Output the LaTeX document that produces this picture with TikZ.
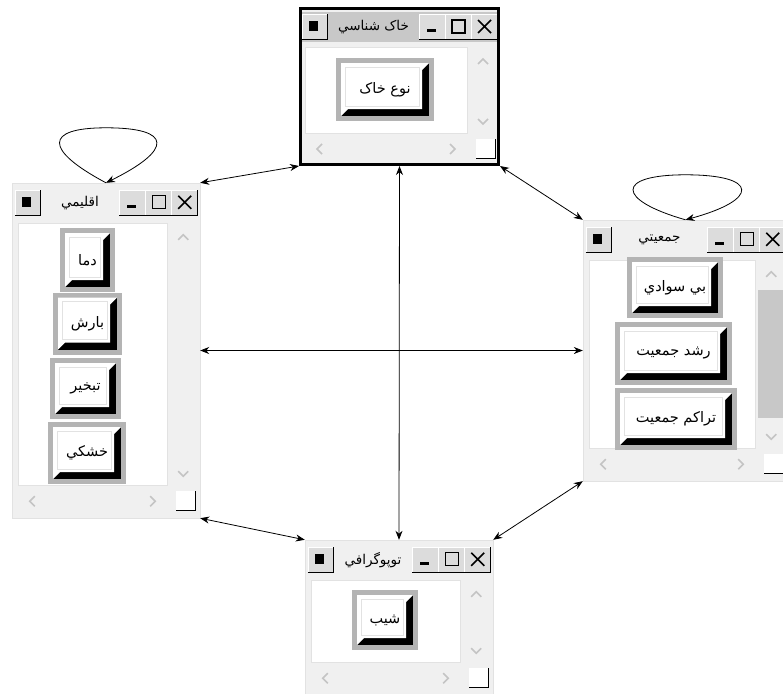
\documentclass[tikz,border=0pt]{standalone}
\usepackage{fontspec}
\usetikzlibrary{arrows.meta}
\TeXXeTstate=1
\newfontfamily\arabicfont[Script=Arabic]{DejaVu Sans}
\definecolor{winbg}{HTML}{F0F0F0}
\definecolor{barbg}{HTML}{C8C8C8}
\definecolor{btnface}{HTML}{DCDCDC}
\definecolor{knobgray}{HTML}{B4B4B4}
\definecolor{chevgray}{HTML}{C4C4C4}
\definecolor{edge}{HTML}{E2E2E2}
\newcommand\knobfont{\arabicfont\fontsize{14.5}{16}\selectfont}
\newcommand\titlefont{\arabicfont\fontsize{13.5}{15}\selectfont}

\tikzset{
  win/.style={draw=edge, fill=winbg, inner sep=0pt},
  wintitle/.style={inner sep=1pt, font=\titlefont},
  chev/.style={draw=chevgray, line width=1.6pt},
  knob/.style={fill=knobgray, inner sep=0pt, font=\knobfont,
    path picture={
      \coordinate (knw) at (path picture bounding box.north west);
      \coordinate (kne) at (path picture bounding box.north east);
      \coordinate (kse) at (path picture bounding box.south east);
      \coordinate (ksw) at (path picture bounding box.south west);
      \fill[black] ([shift={(5pt,-5pt)}]knw) rectangle ([shift={(-5pt,5pt)}]kse);
      \fill[white] ([shift={(5pt,-5pt)}]knw) -- ([shift={(-5pt,-5pt)}]kne)
        -- ([shift={(-12pt,-12pt)}]kne) -- ([shift={(-12pt,12pt)}]kse)
        -- ([shift={(12pt,12pt)}]ksw) -- ([shift={(5pt,5pt)}]ksw) -- cycle;
      \draw[edge, line width=1pt] ([shift={(9pt,-9pt)}]knw) rectangle ([shift={(-15pt,15pt)}]kse);
    }},
}

% raised button of a title bar
\newcommand\tbtn[4]{%
  \fill[btnface] (#1,#2) rectangle (#3,#4);
  \draw[white] (#1,#4) -- (#1,#2) -- (#3,#2);
  \draw[black] (#1,#4) -- (#3,#4) -- (#3,#2);
}

% title bar, client area and scroll bars of a window node
\newcommand\winparts[3]{%
  \fill[#3] ([shift={(3pt,-5pt)}]#1.north west) rectangle ([shift={(-3pt,-35pt)}]#1.north east);
  \draw[edge, fill=white] ([shift={(6pt,-40pt)}]#1.north west) rectangle ([shift={(-33pt,33pt)}]#1.south east);
  \begin{scope}[shift={(#1.north west)}]
    \tbtn{3}{7}{28}{32}
    \fill (10,14) rectangle (19,24);
  \end{scope}
  \begin{scope}[shift={(#1.north east)}]
    \tbtn{-81}{7}{-55}{32}
    \fill (-73,22) rectangle (-64,25);
    \tbtn{-55}{7}{-29}{32}
    \draw[line width=1.2pt] (-48,13) rectangle (-35,26);
    \tbtn{-29}{7}{-3}{32}
    \draw[line width=1.6pt] (-22,13) -- (-9,26) (-22,26) -- (-9,13);
    \draw[chev] (-22,57) -- (-17,52) -- (-12,57);
  \end{scope}
  \begin{scope}[shift={(#1.south west)}]
    \draw[chev] (23,-22) -- (18,-17) -- (23,-12);
  \end{scope}
  \begin{scope}[shift={(#1.south east)}]
    \draw[chev] (-22,-47) -- (-17,-42) -- (-12,-47);
    \draw[chev] (-50,-22) -- (-45,-17) -- (-50,-12);
    \fill[white] (-24,-27) rectangle (-5,-8);
    \draw (-24,-8) -- (-5,-8) -- (-5,-27);
  \end{scope}
  \node[wintitle] (#1-title) at ([shift={(-26pt,-20pt)}]#1.north) {#2};
}

\begin{document}
\begin{tikzpicture}[x=1pt, y=-1pt, >={Stealth[length=9pt,width=7pt]}]
\useasboundingbox (0,0) rectangle (783,693);
\clip (0,0) rectangle (783,693);
\fill[white] (0,0) rectangle (783,693);

% soil window
\node[win, draw=black, line width=3pt, minimum width=198pt, minimum height=156pt] (soil) at (399.5,86.5) {};
\winparts{soil}{\beginR خاک شناسي\endR}{barbg}
\node[knob, minimum width=98pt, minimum height=63pt] (soiltype) at (385,89.5) {\beginR نوع خاک\endR};

% climate window
\node[win, minimum width=188pt, minimum height=335pt] (climate) at (106,350.5) {};
\winparts{climate}{\beginR اقليمي\endR}{winbg}
\node[knob, minimum width=55pt, minimum height=64pt] (temp) at (87.5,260) {\beginR دما\endR};
\node[knob, minimum width=69pt, minimum height=62pt] (rain) at (87.5,323.5) {\beginR بارش\endR};
\node[knob, minimum width=71pt, minimum height=61pt] (evap) at (85.5,388.5) {\beginR تبخير\endR};
\node[knob, minimum width=78pt, minimum height=62pt] (drought) at (87,453) {\beginR خشکي\endR};

% population window
\node[win, minimum width=205pt, minimum height=261pt] (people) at (685.5,350.5) {};
\winparts{people}{\beginR جمعيتي\endR}{winbg}
\fill[barbg] ([shift={(-30pt,-70pt)}]people.north east) rectangle ([shift={(-3pt,63pt)}]people.south east);
\node[knob, minimum width=96pt, minimum height=61pt] (illit) at (675,287.5) {\beginR بي سوادي\endR};
\node[knob, minimum width=117pt, minimum height=63pt] (growth) at (673.5,353.5) {\beginR رشد جمعيت\endR};
\node[knob, minimum width=122pt, minimum height=62pt] (density) at (676,419) {\beginR تراکم جمعيت\endR};

% topography window
\node[win, minimum width=188pt, minimum height=155pt] (topo) at (399,617.5) {};
\winparts{topo}{\beginR توپوگرافي\endR}{winbg}
\node[knob, minimum width=66pt, minimum height=60pt] (slope) at (385,620) {\beginR شيب\endR};

% links
\draw[<->, line width=0.8pt] (climate.north east) -- (soil.south west);
\draw[<->, line width=0.8pt] (soil.south east) -- (people.north west);
\draw[<->, line width=0.8pt] (soil.south) -- (topo.north);
\draw[<->, line width=0.8pt] (climate.east) -- (people.west);
\draw[<->, line width=0.8pt] (climate.south east) -- (topo.north west);
\draw[<->, line width=0.8pt] (people.south west) -- (topo.north east);
\draw[->, line width=0.8pt] (climate.north) .. controls +(-62,-33) and +(-62,0) .. ++(0,-55)
  .. controls +(67,0) and +(67,-33) .. (climate.north);
\draw[->, line width=0.8pt] (people.north) .. controls +(-70,-20) and +(-70,0) .. ++(0,-45)
  .. controls +(74,0) and +(74,-20) .. (people.north);
\end{tikzpicture}
\end{document}
